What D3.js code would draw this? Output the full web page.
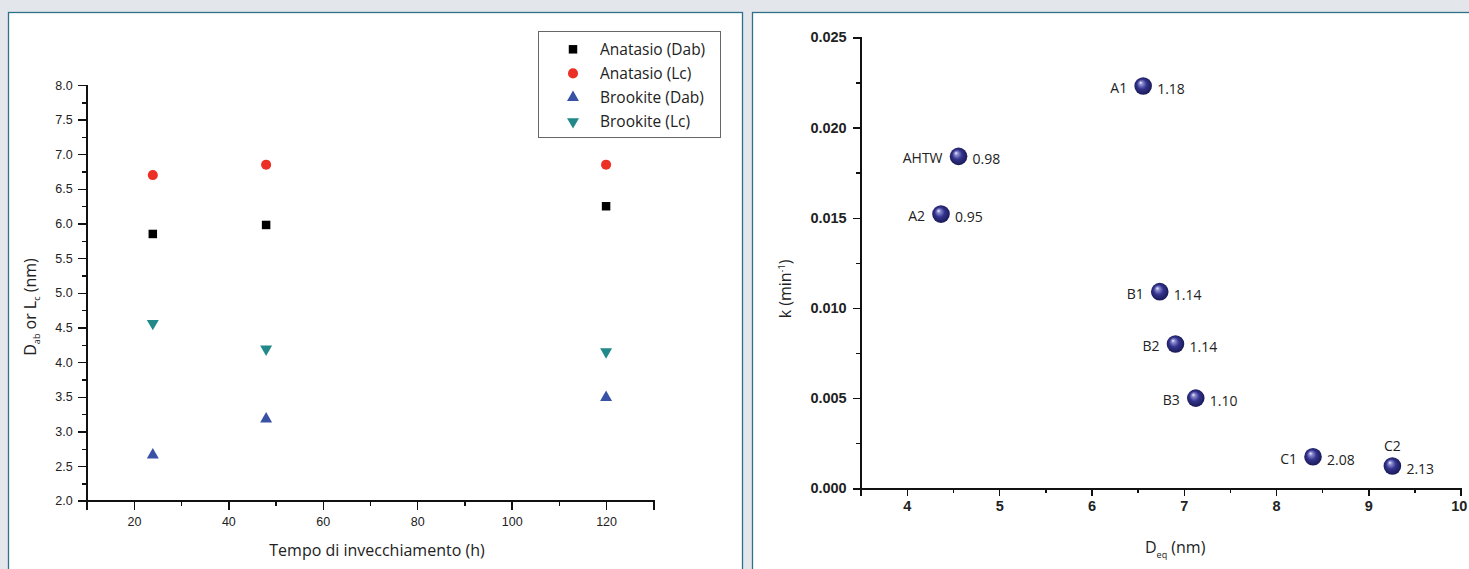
<!DOCTYPE html>
<meta charset="utf-8">
<style>
body { margin: 0; background: #e3e6ea; }
svg { display: block; font-family: "Open Sans", sans-serif; }
.axis path, .axis line { stroke: #111; shape-rendering: crispEdges; }
.axis path { stroke-width: 1.6px; }
.axis line { stroke-width: 1.4px; }
.axis text { fill: #222; }
.left .axis text { font-size: 12.5px; }
.right .axis text { font-size: 14.5px; font-weight: bold; }
.title { font-size: 16px; fill: #222; }
.lbl { font-size: 14px; fill: #222; }
.legend text { font-size: 15.5px; fill: #222; }
</style>
<body>
<div id="chart"></div>
<script src="https://cdnjs.cloudflare.com/ajax/libs/d3/7.8.5/d3.min.js"></script>
<script>
// left panel: crystallite size vs ageing time
var hours = [24, 48, 120];
var anatasioDab = [5.85, 5.98, 6.25];
var anatasioLc = [6.70, 6.85, 6.85];
var brookiteDab = [2.66, 3.18, 3.49];
var brookiteLc = [4.56, 4.19, 4.15];
var seriesNames = ["Anatasio (Dab)", "Anatasio (Lc)", "Brookite (Dab)", "Brookite (Lc)"];

// right panel: rate constant vs equivalent diameter
var samples = ["A1", "AHTW", "A2", "B1", "B2", "B3", "C1", "C2"];
var deq = [6.56, 4.56, 4.37, 6.74, 6.91, 7.13, 8.40, 9.26];
var kRate = [0.0223, 0.0184, 0.0152, 0.0109, 0.0080, 0.0050, 0.00175, 0.00124];
var ratios = ["1.18", "0.98", "0.95", "1.14", "1.14", "1.10", "2.08", "2.13"];

var W = 1469, H = 569;
var svg = d3.select("#chart").append("svg").attr("width", W).attr("height", H);

// panel frames
svg.append("rect").attr("x", 8.5).attr("y", 12.5).attr("width", 734).attr("height", 600)
    .attr("fill", "#fff").attr("stroke", "#2f7188").attr("stroke-width", 1.3);
svg.append("rect").attr("x", 752.5).attr("y", 12.5).attr("width", 760).attr("height", 600)
    .attr("fill", "#fff").attr("stroke", "#2f7188").attr("stroke-width", 1.3);

// ---------- left chart ----------
var L = svg.append("g").attr("class", "left");
var xL = d3.scaleLinear().domain([10, 130]).range([86.7, 653.3]);
var yL = d3.scaleLinear().domain([2, 8]).range([500.7, 85]);

L.append("g").attr("class", "axis").attr("transform", "translate(0," + yL(2) + ")")
    .call(d3.axisBottom(xL).tickValues(d3.range(10, 131, 10)).tickSize(5).tickFormat(""));
L.append("g").attr("class", "axis").attr("transform", "translate(0," + yL(2) + ")")
    .call(d3.axisBottom(xL).tickValues(d3.range(20, 121, 20)).tickSize(9).tickPadding(7));
L.append("g").attr("class", "axis").attr("transform", "translate(" + xL(10) + ",0)")
    .call(d3.axisLeft(yL).tickValues(d3.range(2, 8.01, 0.25)).tickSize(5).tickFormat(""));
L.append("g").attr("class", "axis").attr("transform", "translate(" + xL(10) + ",0)")
    .call(d3.axisLeft(yL).tickValues(d3.range(2, 8.01, 0.5)).tickSize(9).tickPadding(5).tickFormat(d3.format(".1f")));

var leftSeries = [
  {name: seriesNames[0], values: anatasioDab, type: d3.symbolSquare, size: 72, color: "#000000", rot: 0},
  {name: seriesNames[1], values: anatasioLc, type: d3.symbolCircle, size: 80, color: "#ec3025", rot: 0},
  {name: seriesNames[2], values: brookiteDab, type: d3.symbolTriangle, size: 62, color: "#3a52a6", rot: 0},
  {name: seriesNames[3], values: brookiteLc, type: d3.symbolTriangle, size: 62, color: "#22898a", rot: 180}
];

leftSeries.forEach(function(s) {
  L.append("g").selectAll("path")
    .data(s.values)
    .enter().append("path")
    .attr("d", d3.symbol().type(s.type).size(s.size))
    .attr("transform", function(d, i) {
      return "translate(" + xL(hours[i]) + "," + yL(d) + ") rotate(" + s.rot + ")";
    })
    .attr("fill", s.color);
});

// legend
var lg = L.append("g").attr("class", "legend");
lg.append("rect").attr("x", 538.5).attr("y", 31.5).attr("width", 182).attr("height", 106)
    .attr("fill", "#fff").attr("stroke", "#666").attr("stroke-width", 1);
leftSeries.forEach(function(s, i) {
  var cy = 49.3 + i * 24.1;
  lg.append("path")
    .attr("d", d3.symbol().type(s.type).size(s.size))
    .attr("transform", "translate(573," + cy + ") rotate(" + s.rot + ")")
    .attr("fill", s.color);
  lg.append("text").attr("x", 600).attr("y", cy).attr("dy", "0.35em").text(s.name);
});

L.append("text").attr("class", "title").attr("x", 377).attr("y", 556)
    .attr("text-anchor", "middle").text("Tempo di invecchiamento (h)");

var yt = L.append("text").attr("class", "title")
    .attr("transform", "translate(36,307) rotate(-90)").attr("text-anchor", "middle");
yt.append("tspan").text("D");
yt.append("tspan").attr("font-size", "9px").attr("dy", 4).text("ab");
yt.append("tspan").attr("dy", -4).text(" or L");
yt.append("tspan").attr("font-size", "9px").attr("dy", 4).text("c");
yt.append("tspan").attr("dy", -4).text(" (nm)");

// ---------- right chart ----------
var R = svg.append("g").attr("class", "right");
var xR = d3.scaleLinear().domain([3.5, 10]).range([860.7, 1460.7]);
var yR = d3.scaleLinear().domain([0, 0.025]).range([488.3, 37.3]);

R.append("g").attr("class", "axis").attr("transform", "translate(0," + yR(0) + ")")
    .call(d3.axisBottom(xR).tickValues(d3.range(3.5, 10.01, 0.5)).tickSize(5).tickFormat(""));
var xAxR = R.append("g").attr("class", "axis").attr("transform", "translate(0," + yR(0) + ")")
    .call(d3.axisBottom(xR).tickValues(d3.range(4, 10.01, 1)).tickSize(8).tickPadding(4).tickFormat(d3.format("d")));
// last label sits right at the page edge: nudge it in so it stays whole
xAxR.selectAll(".tick text").filter(function(d) { return d === 10; }).attr("dx", -2);
R.append("g").attr("class", "axis").attr("transform", "translate(" + xR(3.5) + ",0)")
    .call(d3.axisLeft(yR).tickValues(d3.range(0, 0.02501, 0.0025)).tickSize(5).tickFormat(""));
R.append("g").attr("class", "axis").attr("transform", "translate(" + xR(3.5) + ",0)")
    .call(d3.axisLeft(yR).tickValues(d3.range(0, 0.02501, 0.005)).tickSize(8).tickPadding(6).tickFormat(d3.format(".3f")));

var defs = svg.append("defs");
var grad = defs.append("radialGradient").attr("id", "ball")
    .attr("cx", "50%").attr("cy", "50%").attr("r", "55%")
    .attr("fx", "35%").attr("fy", "30%");
grad.append("stop").attr("offset", "0%").attr("stop-color", "#f2f2ff");
grad.append("stop").attr("offset", "18%").attr("stop-color", "#8c8cd0");
grad.append("stop").attr("offset", "50%").attr("stop-color", "#34348f");
grad.append("stop").attr("offset", "100%").attr("stop-color", "#15154d");

var pts = samples.map(function(s, i) {
  return {name: s, x: deq[i], k: kRate[i], r: ratios[i]};
});

R.append("g").selectAll("circle")
    .data(pts)
    .enter().append("circle")
    .attr("cx", function(d) { return xR(d.x); })
    .attr("cy", function(d) { return yR(d.k); })
    .attr("r", 8.8)
    .attr("fill", "url(#ball)");

// sample names: left of the sphere, except C2 which sits above
R.append("g").selectAll("text")
    .data(pts)
    .enter().append("text")
    .attr("class", "lbl")
    .attr("x", function(d) { return d.name === "C2" ? xR(d.x) : xR(d.x) - 16; })
    .attr("y", function(d) { return d.name === "C2" ? yR(d.k) - 20 : yR(d.k) + 2; })
    .attr("dy", "0.35em")
    .attr("text-anchor", function(d) { return d.name === "C2" ? "middle" : "end"; })
    .text(function(d) { return d.name; });

R.append("g").selectAll("text")
    .data(pts)
    .enter().append("text")
    .attr("class", "lbl")
    .attr("x", function(d) { return xR(d.x) + 14; })
    .attr("y", function(d) { return yR(d.k) + 3; })
    .attr("dy", "0.35em")
    .text(function(d) { return d.r; });

var xt = R.append("text").attr("class", "title").attr("x", 1145).attr("y", 553);
xt.append("tspan").text("D");
xt.append("tspan").attr("font-size", "9px").attr("dy", 5).text("eq");
xt.append("tspan").attr("dy", -5).text(" (nm)");

var kt = R.append("text").attr("class", "title")
    .attr("transform", "translate(791,289) rotate(-90)").attr("text-anchor", "middle");
kt.append("tspan").text("k (min");
kt.append("tspan").attr("font-size", "9px").attr("dy", -6).text("-1");
kt.append("tspan").attr("dy", 6).text(")");
</script>
